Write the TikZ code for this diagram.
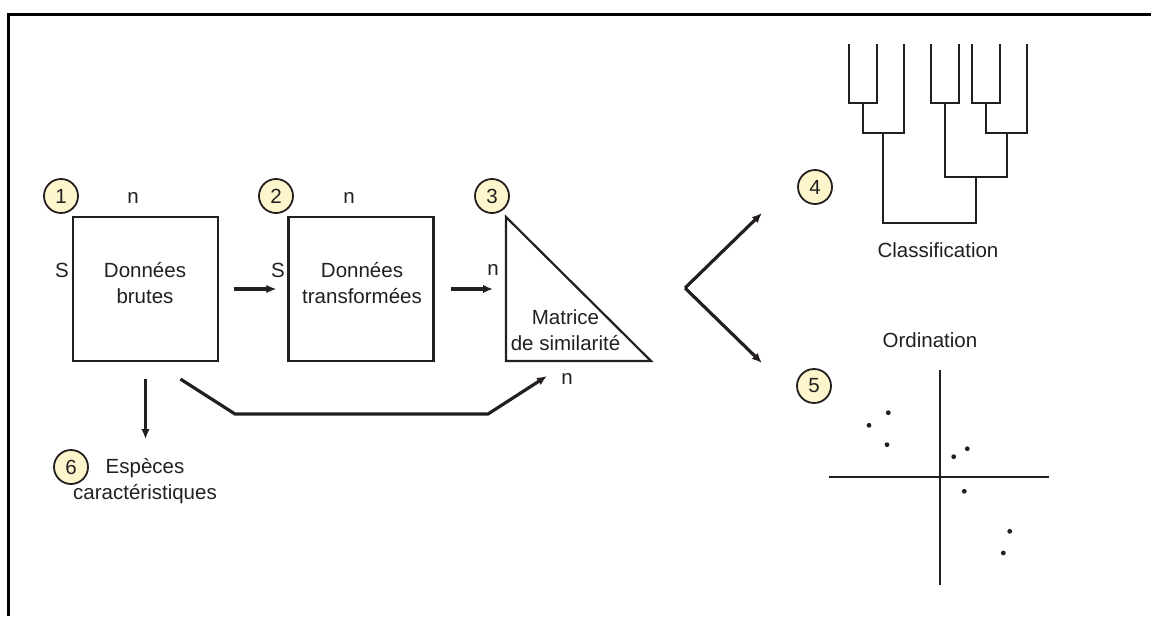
\documentclass[tikz,border=0pt]{standalone}
\usepackage{fontspec}
\setmainfont{Liberation Sans}
\usetikzlibrary{arrows.meta}
\definecolor{ink}{HTML}{231F20}
\definecolor{numfill}{HTML}{FDF6CC}
\begin{document}
\begin{tikzpicture}[x=1pt,y=-1pt,
  every node/.style={text=ink, font=\fontsize{20.5}{25.5}\selectfont, inner sep=0pt},
  box/.style={draw=ink, line width=2.2pt, minimum width=145pt, minimum height=144pt},
  num/.style={circle, draw=ink, fill=numfill, line width=1.8pt, minimum size=34pt},
  arr/.style={draw=ink, line width=3.2pt, -{Latex[length=10pt,width=8.5pt]}, line join=miter},
  dline/.style={draw=ink, line width=2.2pt, line join=miter},
  axis/.style={draw=ink, line width=2.2pt},
  dot/.style={fill=ink},
  lab/.style={align=center}
]
\useasboundingbox (0,0) rectangle (1151,616);
\draw[line width=3pt, black] (1151,14.5) -- (8.7,14.5) -- (8.7,616);

% boxes
\node[box] (b1) at (145.5,289) {};
\node[box] (b2) at (361,289) {};
\node[lab] (t1txt) at (145,283) {Données\\brutes};
\node[lab] (t2txt) at (362,283) {Données\\transformées};

% triangle
\coordinate (ta) at (506,217);
\coordinate (tb) at (506,361);
\coordinate (tc) at (651,361);
\coordinate (tw) at (506,289);
\draw[dline] (ta) -- (tb) -- (tc) -- cycle;
\node[lab] (t3txt) at (565.5,330) {Matrice\\de similarité};

% labels n / S
\node (n1) at (133,198) {n};
\node (s1) at (62,270) {S};
\node (n2) at (349,198) {n};
\node (s2) at (278,270) {S};
\node (n3) at (493,270) {n};
\node (n4) at (567,379) {n};

% numbered circles
\node[num] (c1) at (61,196) {1};
\node[num] (c2) at (276,196) {2};
\node[num] (c3) at (492,196) {3};
\node[num] (c4) at (815,187) {4};
\node[num] (c5) at (814,386) {5};
\node[num] (c6) at (71,467) {6};

% especes
\node[lab] (es) at (145,481) {Espèces\\caractéristiques};

% arrows
\draw[arr] ([shift={(15,0)}]b1.east) -- ([shift={(-11,0)}]b2.west);
\draw[arr] ([shift={(16,0)}]b2.east) -- ([shift={(-13,0)}]tw);
\draw[arr] ([shift={(0,17)}]b1.south) -- ([shift={(0,77)}]b1.south);
\draw[arr] ([shift={(35,17)}]b1.south) -- (235,414) -- (488,414) -- ([shift={(41,15)}]tb);

% V arrows
\coordinate (apex) at (685,288);
\coordinate (up) at (762,213);
\coordinate (dn) at (762,363);
\draw[arr] (apex) -- (up);
\draw[arr] (apex) -- (dn);

% dendrogram
\begin{scope}[dline]
\draw (849.3,44) -- (849.3,102.7) -- (877.3,102.7) -- (877.3,44);
\draw (863.3,102.7) -- (863.3,132.7) -- (904.3,132.7) -- (904.3,44);
\draw (931,44) -- (931,102.7) -- (958.7,102.7) -- (958.7,44);
\draw (972,44) -- (972,102.7) -- (1000,102.7) -- (1000,44);
\draw (986,102.7) -- (986,132.7) -- (1027,132.7) -- (1027,44);
\draw (945,102.7) -- (945,177.3) -- (1006.7,177.3) -- (1006.7,132.7);
\draw (883.3,132.7) -- (883.3,222.7) -- (975.7,222.7) -- (975.7,177.3);
\end{scope}
\node (cls) at (938,250) {Classification};

% ordination
\node (ord) at (930,340) {Ordination};
\draw[axis] (940,370) -- (940,585);
\draw[axis] (829,477) -- (1049,477);
\foreach \p in {(888.3,412.7),(869,425.3),(887,444.7),(967.3,448.7),(953.7,456.7),(964.3,491.3),(1009.7,531.3),(1003.3,553)}
  \fill[dot] \p circle (2.4);
\end{tikzpicture}
\end{document}
